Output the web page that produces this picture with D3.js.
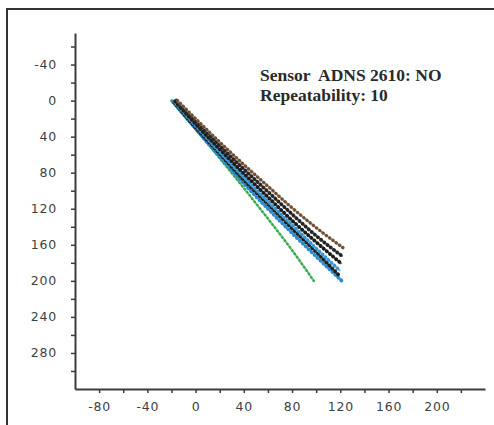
<!DOCTYPE html>
<html>
<head>
<meta charset="utf-8">
<script src="https://cdn.jsdelivr.net/npm/d3@7"></script>
<style>
  body { margin: 0; background: #fff; }
  .tick text { font-family: "DejaVu Sans", sans-serif; font-size: 12.5px; fill: #3f3f3f; letter-spacing: 0.8px; }
  .domain, .tick line { stroke: #3c3c3c; }
</style>
</head>
<body>
<svg id="plot"></svg>
<script>
// Tick values
const yTicks = [-60, -40, -20, 0, 20, 40, 60, 80, 100, 120, 140, 160, 180, 200, 220, 240, 260, 280, 300];
const xTicks = [-80, -60, -40, -20, 0, 20, 40, 60, 80, 100, 120, 140, 160, 180, 200, 220];

// Trajectories, [x, y] pairs
const brownRun = [[-15, 0], [0, 20], [20, 46], [40, 71], [60, 95], [80, 119], [100, 141], [123, 164]];
const blackRun1 = [[-16, 0], [0, 23], [20, 50], [40, 76], [60, 101], [80, 126], [100, 150], [122, 173]];
const blackRun2 = [[-17, 1], [0, 26], [20, 54], [40, 81], [60, 107], [80, 133], [100, 157], [121, 181]];
const blueRun1 = [[-18, 1], [0, 28], [20, 57], [40, 85], [60, 112], [80, 138], [100, 164], [120, 189]];
const blackRun3 = [[-18, 2], [0, 30], [20, 59], [40, 88], [60, 115], [80, 142], [100, 168], [119, 194]];
const blueRun2 = [[-19, 1], [0, 31], [20, 62], [40, 92], [60, 120], [80, 147], [100, 173], [122, 201]];
const greenRun = [[-20, 0], [0, 32], [20, 64], [40, 97], [60, 131], [80, 166], [98, 200]];

const runs = [
  { pts: greenRun, color: '#36a84a', base: '#6cc77a', dot: 2.6 },
  { pts: blueRun2, color: '#2a8ad0', base: '#5aa9de', dot: 3.8 },
  { pts: blackRun3, color: '#1a2025', base: '#56646d', dot: 3.8 },
  { pts: blueRun1, color: '#3597d6', base: '#7dbde6', dot: 3.6 },
  { pts: blackRun2, color: '#1c1c1c', base: '#5e5e5e', dot: 3.8 },
  { pts: blackRun1, color: '#262626', base: '#6a6a6a', dot: 3.8 },
  { pts: brownRun, color: '#6e5038', base: '#c29a74', dot: 3.4 }
];

const W = 494, H = 425;
const svg = d3.select('#plot').attr('width', W).attr('height', H);

// outer frame
svg.append('rect')
  .attr('x', 7).attr('y', 9)
  .attr('width', W + 20).attr('height', H + 20)
  .attr('fill', 'none')
  .attr('stroke', '#333')
  .attr('stroke-width', 2);

const x = d3.scaleLinear().domain([-100, 240]).range([75, 485]);
const y = d3.scaleLinear().domain([-75, 320]).range([33, 389]);

// axes
const yAxis = svg.append('g')
  .attr('transform', `translate(${x(-100)},0)`)
  .call(d3.axisLeft(y).tickValues(yTicks).tickSize(4).tickSizeOuter(0)
    .tickFormat(d => d % 40 === 0 ? d : ''));
yAxis.select('.domain').attr('stroke-width', 2);
yAxis.selectAll('.tick line').attr('stroke-width', 1.5);
yAxis.selectAll('.tick text').attr('x', -18);

const xAxis = svg.append('g')
  .attr('transform', `translate(0,${y(320)})`)
  .call(d3.axisBottom(x).tickValues(xTicks).tickSize(4).tickSizeOuter(0)
    .tickFormat(d => d % 40 === 0 ? d : ''));
xAxis.select('.domain').attr('stroke-width', 2);
xAxis.selectAll('.tick line').attr('stroke-width', 1.5);
xAxis.selectAll('.tick text').attr('y', 13);

// trajectories: thin base line with beaded dots on top
const line = d3.line().x(d => x(d[0])).y(d => y(d[1])).curve(d3.curveMonotoneX);

runs.forEach(r => {
  svg.append('path')
    .datum(r.pts)
    .attr('d', line)
    .attr('fill', 'none')
    .attr('stroke', r.base)
    .attr('stroke-width', 2);
  svg.append('path')
    .datum(r.pts)
    .attr('d', line)
    .attr('fill', 'none')
    .attr('stroke', r.color)
    .attr('stroke-width', r.dot)
    .attr('stroke-linecap', 'round')
    .attr('stroke-dasharray', '0.1,4');
});

// annotation
const note = svg.append('text')
  .style('font-family', '"Liberation Serif", serif')
  .style('font-weight', 'bold')
  .style('font-size', '17.5px')
  .style('fill', '#2a2a2a');

note.append('tspan')
  .attr('x', 260).attr('y', 81)
  .attr('xml:space', 'preserve')
  .text('Sensor  ADNS 2610: NO');

note.append('tspan')
  .attr('x', 260).attr('y', 101)
  .text('Repeatability: 10');
</script>
</body>
</html>
